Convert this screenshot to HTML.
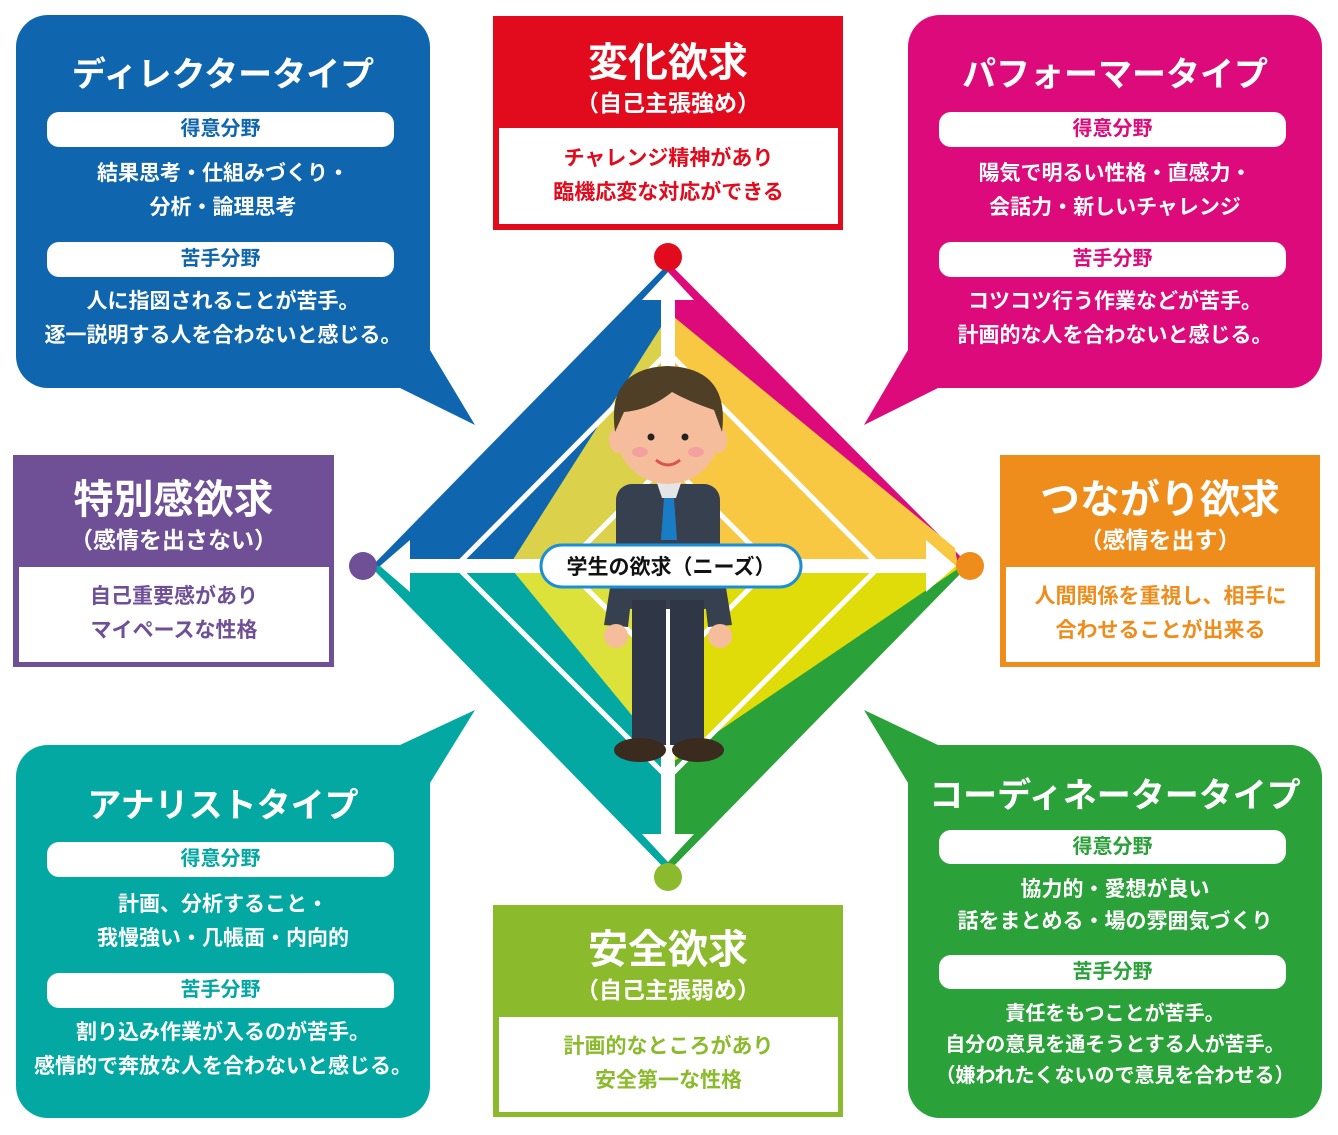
<!DOCTYPE html>
<html><head><meta charset="utf-8"><style>
body{margin:0;width:1338px;height:1135px;background:#fff;position:relative;overflow:hidden;font-family:"Liberation Sans","Noto Sans CJK JP",sans-serif;}
.a{position:absolute;}
.t{position:absolute;left:0;right:0;text-align:center;white-space:nowrap;}
.pill{position:absolute;background:#fff;border-radius:12px;text-align:center;font-size:20px;line-height:35px;font-weight:700;}
.b{font-size:21px;color:#fff;line-height:34px;font-weight:700}
.h{font-weight:700}
</style></head><body>
<svg class="a" style="left:0;top:0" width="1338" height="1135">
<rect x="16" y="15" width="414" height="373" rx="32" fill="#1066ae"/>
<rect x="908" y="15" width="414" height="373" rx="32" fill="#dc0a7a"/>
<rect x="16" y="745" width="414" height="373" rx="32" fill="#04a8a2"/>
<rect x="908" y="745" width="414" height="373" rx="32" fill="#2aa139"/>
<polygon points="430,350 475,425 400,388" fill="#1066ae"/>
<polygon points="908,350 864,425 938,388" fill="#dc0a7a"/>
<polygon points="430,783 475,710 400,745" fill="#04a8a2"/>
<polygon points="908,783 864,710 938,745" fill="#2aa139"/>
<!-- diamond -->
<polygon points="668,264 372,566 668,566" fill="#1066ae"/>
<polygon points="668,316 509,566 668,566" fill="#dcd14a"/>
<polygon points="668,262 966,562 668,566" fill="#dc0a7a"/>
<polygon points="668,312 955,548 958,566 668,566" fill="#f8c843"/>
<polygon points="668,566 968,566 668,872" fill="#2aa139"/>
<polygon points="668,566 962,566 676,760 668,760" fill="#e0dc0a"/>
<polygon points="668,566 370,566 668,872" fill="#04a8a2"/>
<polygon points="668,566 509,566 662,752 668,752" fill="#dde23a"/>
<g fill="none" stroke="#fff" stroke-width="5">
<polygon points="668,352 880,566 668,778 456,566"/>
<polygon points="668,462 772,566 668,670 564,566"/>
</g>
<g fill="#fff">
<rect x="661" y="295" width="14" height="540"/>
<rect x="405" y="559" width="530" height="14"/>
<polygon points="668,272 642,300 694,300"/>
<polygon points="668,862 642,834 694,834"/>
<polygon points="380,566 410,540 410,592"/>
<polygon points="956,566 926,540 926,592"/>
</g>
<circle cx="668" cy="257" r="14" fill="#e10b1d"/>
<circle cx="363" cy="566" r="14" fill="#6f4f96"/>
<circle cx="970" cy="566" r="14" fill="#ee8c1c"/>
<circle cx="668" cy="877" r="14" fill="#8bbb2c"/>
<!-- person -->
<g>
<rect x="616" y="484" width="104" height="125" rx="16" fill="#37404f"/>
<polygon points="624,500 604,625 628,627 640,520" fill="#37404f"/>
<polygon points="712,500 732,625 708,627 696,520" fill="#37404f"/>
<circle cx="616" cy="636" r="12" fill="#f5bd9b"/>
<circle cx="720" cy="636" r="12" fill="#f5bd9b"/>
<rect x="632" y="600" width="34" height="145" fill="#2f3747"/>
<rect x="670" y="600" width="34" height="145" fill="#2f3747"/>
<ellipse cx="640" cy="750" rx="26" ry="12" fill="#3a2b1e"/>
<ellipse cx="698" cy="750" rx="26" ry="12" fill="#3a2b1e"/>
<polygon points="656,480 682,480 676,498 662,498" fill="#e5e5e5"/>
<polygon points="664,498 674,498 677,540 661,540" fill="#1a7cc4"/>
<ellipse cx="668" cy="432" rx="52" ry="52" fill="#f5bd9b"/>
<ellipse cx="618" cy="440" rx="9" ry="13" fill="#f5bd9b"/>
<ellipse cx="718" cy="440" rx="9" ry="13" fill="#f5bd9b"/>
<path d="M615,432 Q606,368 668,366 Q730,368 722,432 L714,410 Q690,402 672,392 Q650,410 624,412 Z" fill="#4f3f27"/>
<circle cx="651" cy="437" r="3.5" fill="#222"/>
<circle cx="685" cy="437" r="3.5" fill="#222"/>
<ellipse cx="640" cy="452" rx="8" ry="5" fill="#f4a0a0"/>
<ellipse cx="696" cy="452" rx="8" ry="5" fill="#f4a0a0"/>
<path d="M656,460 Q668,470 680,460" stroke="#d9534f" stroke-width="3" fill="none"/>
</g>
<rect x="541" y="545" width="260" height="42" rx="21" fill="#fff" stroke="#1a8fd8" stroke-width="3"/>
<text x="671" y="574" text-anchor="middle" font-size="21" font-family="Liberation Sans,Noto Sans CJK JP,sans-serif" font-weight="700" fill="#111">学生の欲求（ニーズ）</text>
</svg>

<div class="a" style="left:16px;top:15px;width:414px;height:373px">
<div class="t h" style="top:32px;font-size:34px;color:#fff">ディレクタータイプ</div>
<div class="pill" style="left:31px;top:97px;width:347px;color:#1066ae">得意分野</div>
<div class="t b" style="top:142px">結果思考・仕組みづくり・<br>分析・論理思考</div>
<div class="pill" style="left:31px;top:227px;width:347px;color:#1066ae">苦手分野</div>
<div class="t b" style="top:270px">人に指図されることが苦手。<br>逐一説明する人を合わないと感じる。</div>
</div>
<div class="a" style="left:908px;top:15px;width:414px;height:373px">
<div class="t h" style="top:32px;font-size:34px;color:#fff">パフォーマータイプ</div>
<div class="pill" style="left:31px;top:97px;width:347px;color:#dc0a7a">得意分野</div>
<div class="t b" style="top:142px">陽気で明るい性格・直感力・<br>会話力・新しいチャレンジ</div>
<div class="pill" style="left:31px;top:227px;width:347px;color:#dc0a7a">苦手分野</div>
<div class="t b" style="top:270px">コツコツ行う作業などが苦手。<br>計画的な人を合わないと感じる。</div>
</div>
<div class="a" style="left:16px;top:745px;width:414px;height:373px">
<div class="t h" style="top:33px;font-size:34px;color:#fff">アナリストタイプ</div>
<div class="pill" style="left:31px;top:97px;width:347px;color:#04a8a2">得意分野</div>
<div class="t b" style="top:143px">計画、分析すること・<br>我慢強い・几帳面・内向的</div>
<div class="pill" style="left:31px;top:228px;width:347px;color:#04a8a2">苦手分野</div>
<div class="t b" style="top:271px">割り込み作業が入るのが苦手。<br>感情的で奔放な人を合わないと感じる。</div>
</div>
<div class="a" style="left:908px;top:745px;width:414px;height:373px">
<div class="t h" style="top:23px;font-size:34px;color:#fff">コーディネータータイプ</div>
<div class="pill" style="left:31px;top:85px;width:347px;color:#2aa139;line-height:34px">得意分野</div>
<div class="t b" style="top:129px;line-height:32px">協力的・愛想が良い<br>話をまとめる・場の雰囲気づくり</div>
<div class="pill" style="left:31px;top:210px;width:347px;color:#2aa139;line-height:34px">苦手分野</div>
<div class="t b" style="top:254px;line-height:31px;font-size:20px">責任をもつことが苦手。<br>自分の意見を通そうとする人が苦手。<br>（嫌われたくないので意見を合わせる）</div>
</div>

<div class="a" style="left:493px;top:16px;width:350px;height:214px;background:#e10b1d">
<div class="t h" style="top:14px;font-size:40px;color:#fff">変化欲求</div>
<div class="t h" style="top:68px;font-size:23px;color:#fff">（自己主張強め）</div>
<div class="a h" style="left:6px;top:112px;width:339px;height:96px;background:#fff;color:#e10b1d;font-size:21px;line-height:34px;text-align:center;padding-top:14px;box-sizing:border-box">チャレンジ精神があり<br>臨機応変な対応ができる</div>
</div>
<div class="a" style="left:13px;top:455px;width:321px;height:212px;background:#6f4f96">
<div class="t h" style="top:12px;font-size:40px;color:#fff">特別感欲求</div>
<div class="t h" style="top:66px;font-size:23px;color:#fff">（感情を出さない）</div>
<div class="a h" style="left:6px;top:112px;width:310px;height:95px;background:#fff;color:#6f4f96;font-size:21px;line-height:34px;text-align:center;padding-top:13px;box-sizing:border-box">自己重要感があり<br>マイペースな性格</div>
</div>
<div class="a" style="left:1000px;top:455px;width:320px;height:212px;background:#ee8c1c">
<div class="t h" style="top:12px;font-size:40px;color:#fff">つながり欲求</div>
<div class="t h" style="top:66px;font-size:23px;color:#fff">（感情を出す）</div>
<div class="a h" style="left:6px;top:112px;width:309px;height:95px;background:#fff;color:#ee8c1c;font-size:21px;line-height:34px;text-align:center;padding-top:13px;box-sizing:border-box">人間関係を重視し、相手に<br>合わせることが出来る</div>
</div>
<div class="a" style="left:493px;top:905px;width:350px;height:212px;background:#8bbb2c">
<div class="t h" style="top:12px;font-size:40px;color:#fff">安全欲求</div>
<div class="t h" style="top:66px;font-size:23px;color:#fff">（自己主張弱め）</div>
<div class="a h" style="left:6px;top:112px;width:339px;height:95px;background:#fff;color:#8bbb2c;font-size:21px;line-height:34px;text-align:center;padding-top:13px;box-sizing:border-box">計画的なところがあり<br>安全第一な性格</div>
</div>
</body></html>
